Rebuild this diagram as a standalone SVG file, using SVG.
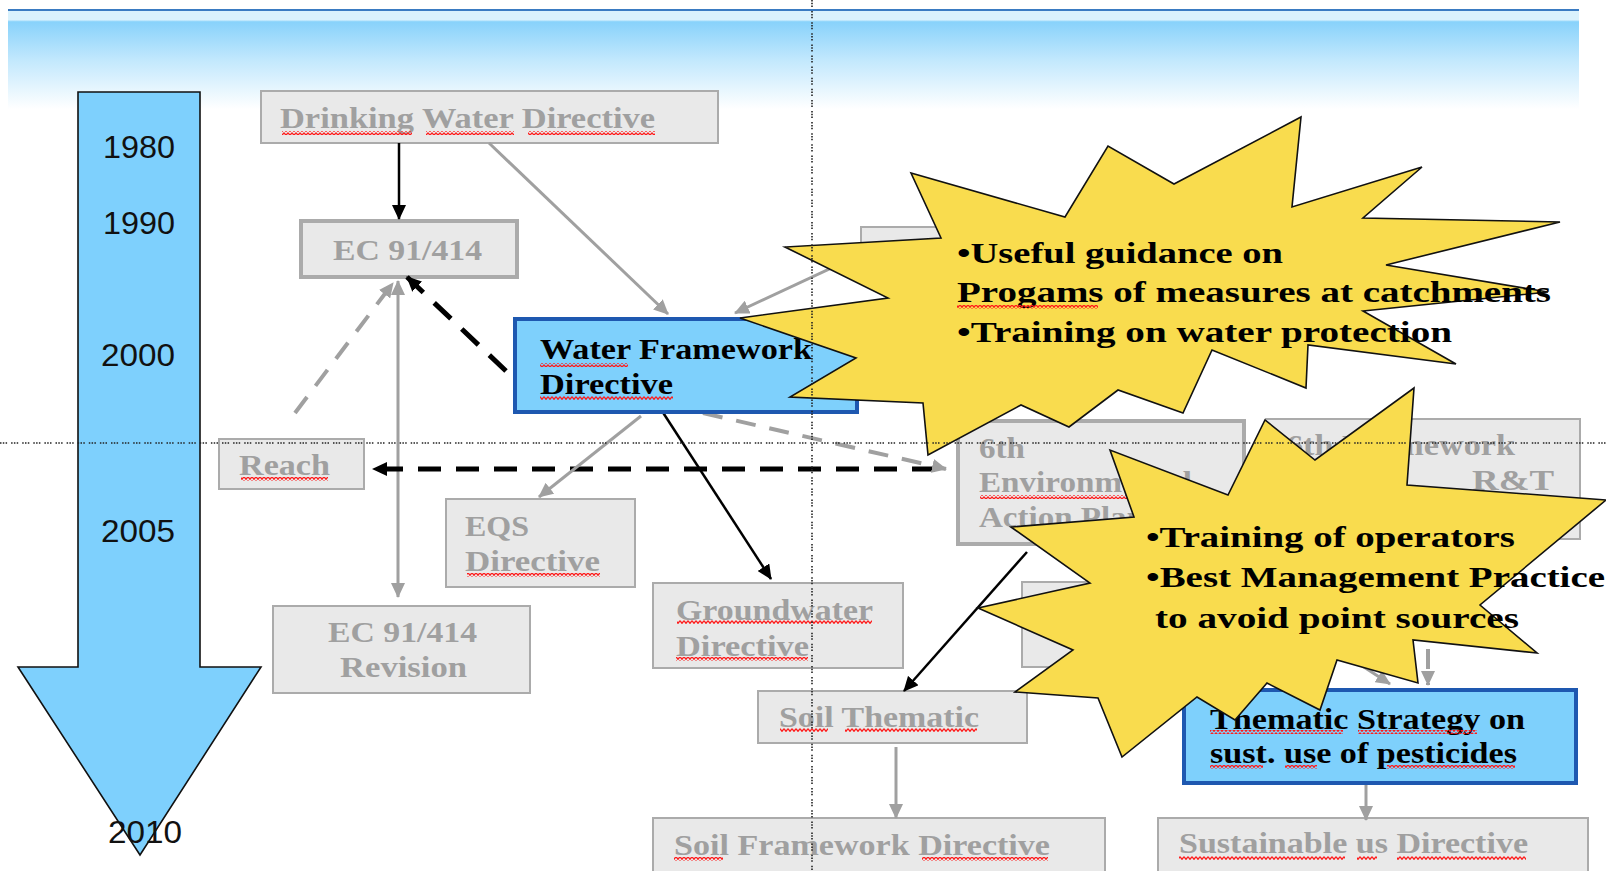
<svg xmlns="http://www.w3.org/2000/svg" width="1606" height="871" viewBox="0 0 1606 871">
<defs>
<linearGradient id="band" x1="0" y1="0" x2="0" y2="1">
<stop offset="0" stop-color="#DAF2FD"/>
<stop offset="0.09" stop-color="#DAF2FD"/>
<stop offset="0.11" stop-color="#88D2FB"/>
<stop offset="0.5" stop-color="#C2E8FD"/>
<stop offset="1" stop-color="#FFFFFF"/>
</linearGradient>
<pattern id="sqp" width="4" height="4" patternUnits="userSpaceOnUse"><path d="M0,0.7 L2,3.3 L4,0.7" fill="none" stroke="#FF1A1A" stroke-width="1.3"/></pattern>
<marker id="mg" markerUnits="userSpaceOnUse" markerWidth="16" markerHeight="14" refX="14" refY="7" orient="auto"><path d="M0,0 L15,7 L0,14 Z" fill="#A0A0A0"/></marker>
<marker id="mgs" markerUnits="userSpaceOnUse" markerWidth="16" markerHeight="14" refX="14" refY="7" orient="auto-start-reverse"><path d="M0,0 L15,7 L0,14 Z" fill="#A0A0A0"/></marker>
<marker id="mb" markerUnits="userSpaceOnUse" markerWidth="16" markerHeight="14" refX="14" refY="7" orient="auto"><path d="M0,0 L15,7 L0,14 Z" fill="#000"/></marker>
</defs>
<style>
.gbox{fill:#E9E9E9;stroke:#ABABAB;stroke-width:2}
.gbox2{fill:#E9E9E9;stroke:#ABABAB;stroke-width:4}
.bbox{fill:#7ED0FC;stroke:#1E58B0;stroke-width:4}
.gt{font-family:"Liberation Serif","Times New Roman",serif;font-weight:bold;font-size:30px;fill:#A0A0A0}
.bt{font-family:"Liberation Serif","Times New Roman",serif;font-weight:bold;font-size:30px;fill:#000}
.yr{font-family:"Liberation Sans",Arial,sans-serif;font-size:31px;fill:#111;text-anchor:middle}
.sq{fill:url(#sqp)}
.cg{stroke:#A0A0A0;stroke-width:3;fill:none}
.cgd{stroke:#A0A0A0;stroke-width:4;fill:none;stroke-dasharray:20 14}
.cb{stroke:#000;stroke-width:2.5;fill:none}
.cbd{stroke:#000;stroke-width:5;fill:none;stroke-dasharray:23 15}
.star{fill:#F9DC4E;stroke:#111;stroke-width:1.6;stroke-linejoin:miter}
.dot{stroke:#222;stroke-width:1.6;fill:none;stroke-dasharray:1.5 1.3 1.5 1.3 1.5 4}
</style>

<g id="background">
<rect x="8" y="11" width="1571" height="98" fill="url(#band)"/>
<rect x="8" y="9" width="1571" height="2" fill="#3A7BC2"/>
</g>

<g id="timeline">
<polygon points="78,92 200,92 200,667 261,667 140,855 18,667 78,667" fill="#7ED0FD" stroke="#111" stroke-width="1.6"/>
<text class="yr" x="139" y="158" textLength="72" lengthAdjust="spacingAndGlyphs">1980</text>
<text class="yr" x="139" y="234" textLength="72" lengthAdjust="spacingAndGlyphs">1990</text>
<text class="yr" x="138" y="366" textLength="74" lengthAdjust="spacingAndGlyphs">2000</text>
<text class="yr" x="138" y="542" textLength="74" lengthAdjust="spacingAndGlyphs">2005</text>
<text class="yr" x="145" y="843" textLength="74" lengthAdjust="spacingAndGlyphs">2010</text>
</g>

<g id="n-drinking">
<rect class="gbox" x="261" y="91" width="457" height="52"/>
<text class="gt" x="280" y="128" textLength="375" lengthAdjust="spacingAndGlyphs">Drinking Water Directive</text>
<rect class="sq" x="282" y="131" width="130" height="4"/><rect class="sq" x="426" y="131" width="88" height="4"/><rect class="sq" x="528" y="131" width="127" height="4"/>
</g>

<g id="n-ec">
<rect class="gbox2" x="301" y="221" width="216" height="56"/>
<text class="gt" x="333" y="260" textLength="149" lengthAdjust="spacingAndGlyphs">EC 91/414</text>
</g>

<g id="n-hidden1">
<rect class="gbox" x="861" y="227" width="160" height="52"/>
</g>

<g id="n-reach">
<rect class="gbox" x="219" y="439" width="145" height="50"/>
<text class="gt" x="239" y="475" textLength="91" lengthAdjust="spacingAndGlyphs">Reach</text>
<rect class="sq" x="241" y="477" width="87" height="4"/>
</g>

<g id="n-eqs">
<rect class="gbox" x="446" y="499" width="189" height="88"/>
<text class="gt" x="465" y="536" textLength="64" lengthAdjust="spacingAndGlyphs">EQS</text>
<text class="gt" x="465" y="571" textLength="135" lengthAdjust="spacingAndGlyphs">Directive</text>
<rect class="sq" x="467" y="573" width="133" height="4"/>
</g>

<g id="n-ecrev">
<rect class="gbox" x="273" y="606" width="257" height="87"/>
<text class="gt" x="328" y="642" textLength="149" lengthAdjust="spacingAndGlyphs">EC 91/414</text>
<text class="gt" x="340" y="677" textLength="127" lengthAdjust="spacingAndGlyphs">Revision</text>
</g>

<g id="n-gw">
<rect class="gbox" x="653" y="583" width="250" height="85"/>
<text class="gt" x="676" y="620" textLength="197" lengthAdjust="spacingAndGlyphs">Groundwater</text>
<text class="gt" x="676" y="656" textLength="133" lengthAdjust="spacingAndGlyphs">Directive</text>
<rect class="sq" x="677" y="620" width="195" height="4"/><rect class="sq" x="676" y="657" width="132" height="4"/>
</g>

<g id="n-soilthem">
<rect class="gbox" x="758" y="691" width="269" height="52"/>
<text class="gt" x="779" y="727" textLength="200" lengthAdjust="spacingAndGlyphs">Soil Thematic</text>
<rect class="sq" x="780" y="728" width="48" height="4"/><rect class="sq" x="845" y="728" width="132" height="4"/>
</g>

<g id="n-soilfw">
<rect class="gbox" x="653" y="818" width="452" height="60"/>
<text class="gt" x="674" y="855" textLength="376" lengthAdjust="spacingAndGlyphs">Soil Framework Directive</text>
<rect class="sq" x="674" y="857" width="49" height="4"/><rect class="sq" x="922" y="857" width="126" height="4"/>
</g>

<g id="n-6eap">
<rect class="gbox2" x="958" y="421" width="286" height="123"/>
<text class="gt" x="979" y="458" textLength="46" lengthAdjust="spacingAndGlyphs">6th</text>
<text class="gt" x="979" y="492" textLength="213" lengthAdjust="spacingAndGlyphs">Environmental</text>
<text class="gt" x="979" y="527" textLength="166" lengthAdjust="spacingAndGlyphs">Action Plan</text>
<rect class="sq" x="980" y="495" width="200" height="4"/>
</g>

<g id="n-6fp">
<rect class="gbox" x="1266" y="419" width="314" height="120"/>
<text class="gt" x="1286" y="455" textLength="229" lengthAdjust="spacingAndGlyphs">6th Framework</text>
<text class="gt" x="1472" y="490" textLength="82" lengthAdjust="spacingAndGlyphs">R&amp;T</text>
</g>

<g id="n-hidden2">
<rect class="gbox" x="1022" y="582" width="178" height="85"/>
</g>

<g id="n-sud">
<rect class="gbox" x="1158" y="818" width="430" height="60"/>
<text class="gt" x="1179" y="853" textLength="349" lengthAdjust="spacingAndGlyphs">Sustainable us Directive</text>
<rect class="sq" x="1179" y="856" width="166" height="4"/><rect class="sq" x="1357" y="856" width="20" height="4"/><rect class="sq" x="1397" y="856" width="129" height="4"/>
</g>

<g id="connectors">
<line class="cb" x1="399" y1="143" x2="399" y2="219" stroke-width="4" marker-end="url(#mb)"/>
<line class="cg" x1="489" y1="143" x2="668" y2="314" marker-end="url(#mg)"/>
<line class="cg" x1="870" y1="250" x2="735" y2="313" marker-end="url(#mg)"/>
<line class="cg" x1="398" y1="281" x2="398" y2="597" marker-start="url(#mgs)" marker-end="url(#mgs)"/>
<line class="cgd" x1="295" y1="413" x2="393" y2="283" marker-end="url(#mg)"/>
<line class="cbd" x1="506" y1="371" x2="407" y2="277" marker-end="url(#mb)"/>
<line class="cbd" x1="935" y1="469" x2="373" y2="469" marker-end="url(#mb)"/>
<line class="cgd" x1="703" y1="413" x2="946" y2="469" marker-end="url(#mg)"/>
<line class="cg" x1="641" y1="416" x2="539" y2="497" marker-end="url(#mg)"/>
<line class="cb" x1="662" y1="411" x2="771" y2="579" marker-end="url(#mb)"/>
<line class="cb" x1="1027" y1="552" x2="904" y2="691" marker-end="url(#mb)"/>
<line class="cg" x1="896" y1="747" x2="896" y2="818" marker-end="url(#mg)"/>
<line class="cg" x1="1330" y1="645" x2="1390" y2="684" marker-end="url(#mg)"/>
<line class="cgd" x1="1428" y1="615" x2="1428" y2="685" stroke-width="3" marker-end="url(#mg)"/>
<line class="cg" x1="1366" y1="785" x2="1366" y2="820" marker-end="url(#mg)"/>
</g>

<g id="n-wfd">
<rect class="bbox" x="515" y="319" width="342" height="93"/>
<text class="bt" x="540" y="359" textLength="272" lengthAdjust="spacingAndGlyphs">Water Framework</text>
<text class="bt" x="540" y="394" textLength="133" lengthAdjust="spacingAndGlyphs">Directive</text>
<rect class="sq" x="540" y="363" width="88" height="4"/><rect class="sq" x="540" y="396" width="133" height="4"/>
</g>

<g id="n-tspest">
<rect class="bbox" x="1184" y="690" width="392" height="93"/>
<text class="bt" x="1210" y="729" textLength="315" lengthAdjust="spacingAndGlyphs">Thematic Strategy on</text>
<text class="bt" x="1210" y="763" textLength="307" lengthAdjust="spacingAndGlyphs">sust. use of pesticides</text>
<rect class="sq" x="1210" y="730" width="133" height="4"/><rect class="sq" x="1358" y="730" width="119" height="4"/>
<rect class="sq" x="1210" y="765" width="53" height="4"/><rect class="sq" x="1285" y="765" width="32" height="4"/><rect class="sq" x="1387" y="765" width="128" height="4"/>
</g>

<g id="star1">
<polygon class="star" points="1301,117 1292,207 1422,167 1363,218 1560,222 1386,265 1548,292 1363,311 1456,364 1308,345 1306,388 1212,350 1183,413 1118,390 1069,427 1021,405 928,455 923,403 790,397 856,358 740,318 888,298 785,247 941,238 911,173 1065,217 1108,146 1174,184"/>
<text class="bt" x="957" y="263" textLength="326" lengthAdjust="spacingAndGlyphs">•Useful guidance on</text>
<text class="bt" x="957" y="302" textLength="594" lengthAdjust="spacingAndGlyphs">Progams of measures at catchments</text>
<text class="bt" x="957" y="342" textLength="495" lengthAdjust="spacingAndGlyphs">•Training on water protection</text>
<rect class="sq" x="957" y="305" width="141" height="4"/>
</g>

<g id="star2">
<polygon class="star" points="1414,388 1407,485 1606,500 1480,605 1537,653 1413,640 1418,683 1337,660 1320,710 1267,683 1235,720 1197,697 1122,757 1098,698 1015,692 1073,650 978,608 1090,583 1011,527 1134,517 1110,450 1228,495 1265,420 1315,460"/>
<text class="bt" x="1146" y="547" textLength="369" lengthAdjust="spacingAndGlyphs">•Training of operators</text>
<text class="bt" x="1146" y="587" textLength="459" lengthAdjust="spacingAndGlyphs">•Best Management Practice</text>
<text class="bt" x="1155" y="628" textLength="364" lengthAdjust="spacingAndGlyphs">to avoid point sources</text>
</g>

<g id="guides">
<line class="dot" x1="0" y1="443" x2="1606" y2="443"/>
<line class="dot" x1="812" y1="0" x2="812" y2="871"/>
</g>
</svg>
